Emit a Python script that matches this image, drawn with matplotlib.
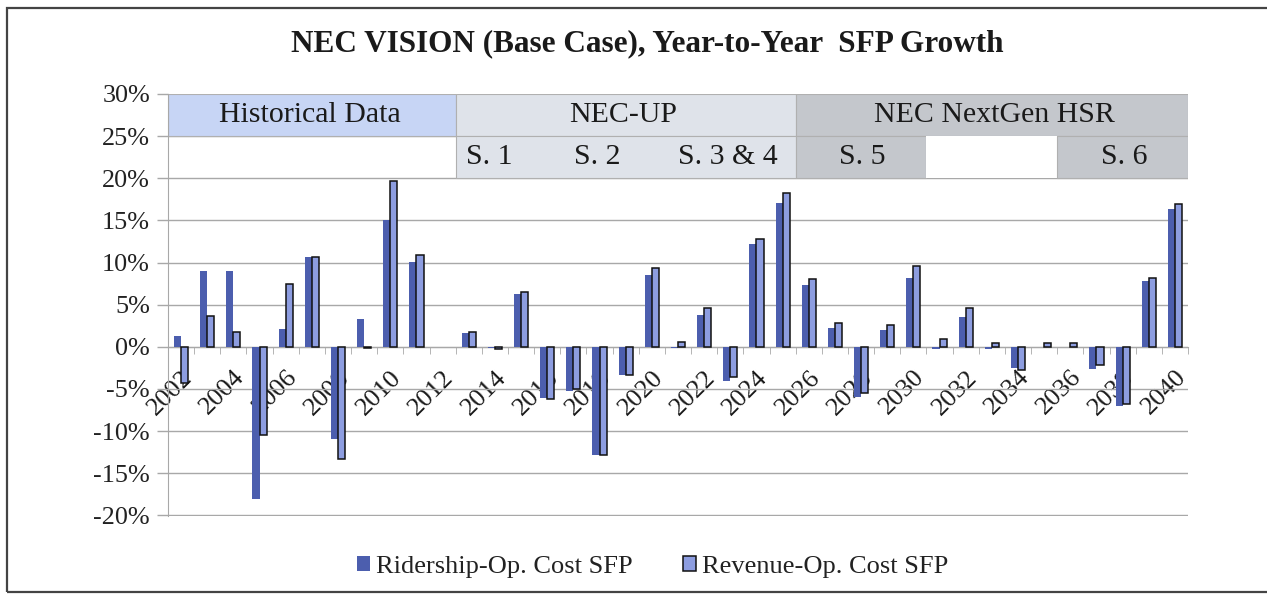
import matplotlib
matplotlib.use("Agg")
import matplotlib.pyplot as plt
import matplotlib.patches as mpatches
from matplotlib.ticker import FixedLocator, FuncFormatter
import numpy as np

plt.rcParams['font.family'] = ['Liberation Serif', 'DejaVu Serif']

nan = float('nan')
years = list(range(2002, 2041))
ridership = [1.3, 9.0, 9.0, -18.1, 2.1, 10.7, -11.0, 3.3, 15.0, 10.1, nan, 1.6,
             -0.2, 6.3, -6.1, -5.2, -12.8, -3.4, 8.5, -0.2, 3.8, -4.1, 12.2, 17.1,
             7.3, 2.2, -5.9, 2.0, 8.2, -0.3, 3.5, -0.3, -2.5, nan, nan, -2.6,
             -7.0, 7.8, 16.4]
revenue = [-4.3, 3.6, 1.8, -10.5, 7.5, 10.6, -13.3, -0.2, 19.7, 10.9, nan, 1.8,
           -0.3, 6.5, -6.2, -5.0, -12.8, -3.4, 9.4, 0.6, 4.6, -3.6, 12.8, 18.2,
           8.1, 2.8, -5.5, 2.6, 9.6, 0.9, 4.6, 0.5, -2.7, 0.5, 0.5, -2.2,
           -6.8, 8.2, 17.0]
series_names = ['Ridership-Op. Cost SFP', 'Revenue-Op. Cost SFP']
yticks = [30, 25, 20, 15, 10, 5, 0, -5, -10, -15, -20]
title = 'NEC VISION (Base Case), Year-to-Year  SFP Growth'

# header bands
bands_top = [('Historical Data', 2002, 2012, '#c7d5f5'),
             ('NEC-UP', 2013, 2025, '#dfe3ea'),
             ('NEC NextGen HSR', 2026, 2040, '#c4c7cc')]
bands_bottom = [(2013, 2025, '#dfe3ea'),
                (2026, 2030, '#c4c7cc'),
                (2031, 2035, '#ffffff'),
                (2036, 2040, '#c4c7cc')]
sub_labels = [('S. 1', 2013.8), ('S. 2', 2017.9), ('S. 3 & 4', 2022.9),
              ('S. 5', 2028.05), ('S. 6', 2038.05)]
top_label_pos = {'Historical Data': 2006.94, 'NEC-UP': 2018.9, 'NEC NextGen HSR': 2033.1}

W, H = 1267, 595
fig = plt.figure(figsize=(W / 100, H / 100), dpi=100)
ax = fig.add_axes([168 / W, 1 - 516 / H, (1188 - 168) / W, (516 - 94) / H])

x = np.arange(len(years))
bw = 0.27
c_rid = '#4c5eae'
c_rev = '#8d9de0'
ax.bar(x - bw / 2, ridership, width=bw, color=c_rid, zorder=3, label=series_names[0])
ax.bar(x + bw / 2, revenue, width=bw, color=c_rev, edgecolor='#111111', linewidth=1.1,
       zorder=3, label=series_names[1])

ax.set_xlim(-0.5, len(years) - 0.5)
ax.set_ylim(-20.08, 30)

def yi(yr):
    return years.index(yr)

for label, a, b, col in bands_top:
    ax.add_patch(mpatches.Rectangle((yi(a) - 0.5, 25), yi(b) - yi(a) + 1, 5,
                                    facecolor=col, edgecolor='#b0b0b0', lw=0.8, zorder=1))
    ax.text(top_label_pos[label] - 2002, 27.55, label, ha='center', va='center',
            fontsize=21.5, color='#1a1a1a', zorder=4)
for a, b, col in bands_bottom:
    ax.add_patch(mpatches.Rectangle((yi(a) - 0.5, 20), yi(b) - yi(a) + 1, 5,
                                    facecolor=col, edgecolor='#b0b0b0' if col != '#ffffff' else 'none',
                                    lw=0.8, zorder=1))
for label, pos in sub_labels:
    ax.text(pos - 2002, 22.55, label, ha='center', va='center', fontsize=21.5,
            color='#1a1a1a', zorder=4)

ax.yaxis.set_major_locator(FixedLocator(yticks))
ax.yaxis.set_major_formatter(FuncFormatter(lambda v, p: f'{int(v)}%'))
ax.grid(axis='y', color='#a8a8a8', lw=1.0, zorder=0)
ax.set_axisbelow(True)
ax.tick_params(axis='y', labelsize=18.8, length=8, color='#a8a8a8', width=1.0, pad=5,
               labelcolor='#222222')

for s in ['top', 'right']:
    ax.spines[s].set_visible(False)
ax.spines['left'].set_color('#a8a8a8')
ax.spines['bottom'].set_position(('data', 0))
ax.spines['bottom'].set_color('#a8a8a8')
ax.spines['bottom'].set_zorder(2)

ax.set_xticks(x[::2])
ax.set_xticklabels([str(y) for y in years[::2]], rotation=45, ha='right',
                   rotation_mode='anchor', fontsize=19, color='#1a1a1a')
ax.set_xticks(np.arange(-0.5, len(years), 1), minor=True)
ax.tick_params(axis='x', which='major', length=0, pad=14)
ax.tick_params(axis='x', which='minor', length=5, color='#a8a8a8', direction='out')
for lbl in ax.get_xticklabels():
    lbl.set_zorder(5)

fig.text(647 / W, 1 - 44 / H, title, ha='center', va='center', fontsize=22.5,
         fontweight='bold', color='#1a1a1a')

h1 = mpatches.Patch(facecolor=c_rid, edgecolor='none')
h2 = mpatches.Patch(facecolor=c_rev, edgecolor='#111111', linewidth=1.1)
fig.legend([h1, h2], series_names, loc='center', bbox_to_anchor=(653 / W, 1 - 567 / H),
           ncol=2, frameon=False, fontsize=19, handlelength=0.47, handleheight=0.47,
           handletextpad=0.25, columnspacing=1.9, labelcolor='#222222')

fig.add_artist(mpatches.Rectangle((7 / W, 3 / H), 1.2, 1 - 11 / H, transform=fig.transFigure,
                                  fill=False, edgecolor='#444444', lw=1.6))

fig.savefig('out.png', dpi=100)
